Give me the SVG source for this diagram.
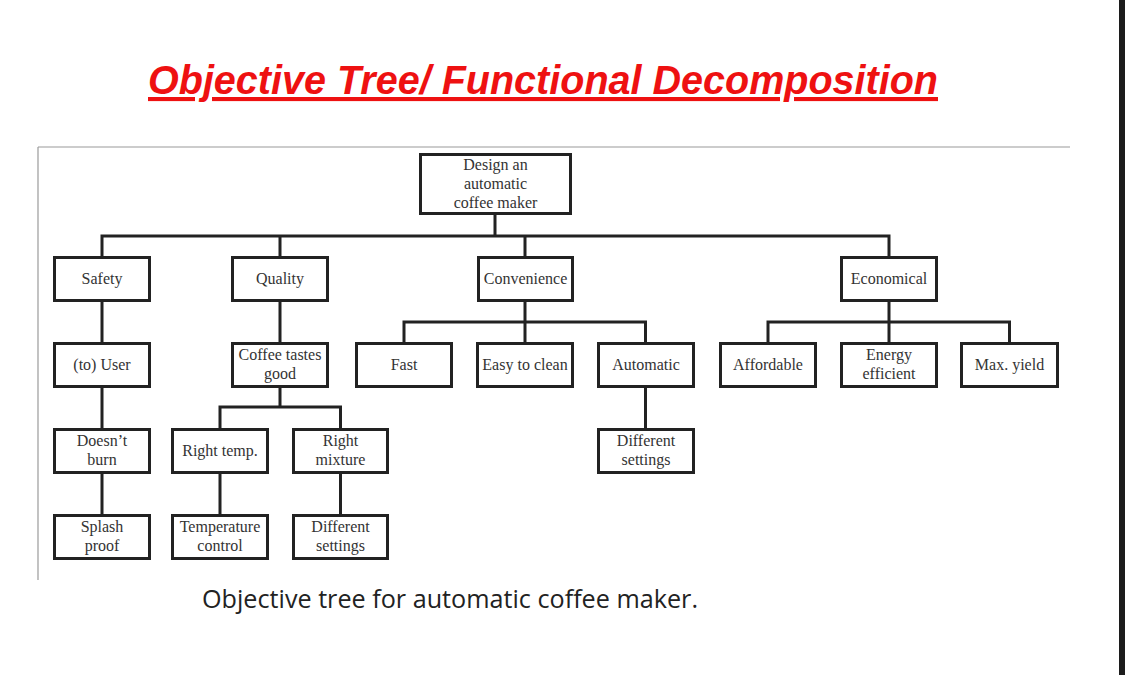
<svg xmlns="http://www.w3.org/2000/svg" width="1125" height="675" viewBox="0 0 1125 675">
<style>
.box{fill:#fff;stroke:#222;stroke-width:3}
.lbl{font-family:"Liberation Serif","Times New Roman",serif;font-size:16px;fill:#333;text-anchor:middle}
.con{fill:none;stroke:#222;stroke-width:3;stroke-linecap:square}
.frame{stroke:#9a9a9a;stroke-width:1.2;fill:none}
</style>
<rect width="1125" height="675" fill="#fff"/>
<rect x="1119" y="0" width="6" height="675" fill="#1c1c1c"/>
<text x="148" y="94" font-family="'Liberation Sans',Arial,sans-serif" font-size="41" font-weight="bold" font-style="italic" fill="#ee1111" text-decoration="underline" textLength="790" lengthAdjust="spacingAndGlyphs">Objective Tree/ Functional Decomposition</text>
<g id="frame">
<line class="frame" x1="38" y1="147" x2="1070" y2="147"/>
<line class="frame" x1="38" y1="147" x2="38" y2="580"/>
</g>
<g id="connectors">
<path class="con" d="M495 215V236M102 236H889M102 236V257M280 236V257M525 236V257M889 236V257"/>
<path class="con" d="M102 300V343M102 386V429M102 472V515"/>
<path class="con" d="M280 300V343M280 386V407M220 407H340.5M220 407V429M340.5 407V429M220 472V515M340.5 472V515"/>
<path class="con" d="M525 300V322M404 322H645.5M404 322V343M525 322V343M645.5 322V343M645.5 386V429"/>
<path class="con" d="M889 300V322M768 322H1009.5M768 322V343M889 322V343M1009.5 322V343"/>
</g>
<g id="root"><rect class="box" x="420.5" y="154.5" width="150" height="59"/><text class="lbl" x="495.5" y="170">Design an</text><text class="lbl" x="495.5" y="189">automatic</text><text class="lbl" x="495.5" y="208">coffee maker</text></g>
<g id="safety"><rect class="box" x="54.5" y="257.5" width="95" height="43"/><text class="lbl" x="102" y="284">Safety</text></g>
<g id="quality"><rect class="box" x="232.5" y="257.5" width="95" height="43"/><text class="lbl" x="280" y="284">Quality</text></g>
<g id="convenience"><rect class="box" x="478.5" y="257.5" width="94" height="43"/><text class="lbl" x="525.5" y="284">Convenience</text></g>
<g id="economical"><rect class="box" x="841.5" y="257.5" width="95" height="43"/><text class="lbl" x="889" y="284">Economical</text></g>
<g id="user"><rect class="box" x="54.5" y="343.5" width="95" height="43"/><text class="lbl" x="102" y="370">(to) User</text></g>
<g id="tastes"><rect class="box" x="232.5" y="343.5" width="95" height="43"/><text class="lbl" x="280" y="360">Coffee tastes</text><text class="lbl" x="280" y="379">good</text></g>
<g id="fast"><rect class="box" x="356.5" y="343.5" width="95" height="43"/><text class="lbl" x="404" y="370">Fast</text></g>
<g id="easy"><rect class="box" x="477.5" y="343.5" width="95" height="43"/><text class="lbl" x="525" y="370">Easy to clean</text></g>
<g id="automatic"><rect class="box" x="598.5" y="343.5" width="95" height="43"/><text class="lbl" x="646" y="370">Automatic</text></g>
<g id="affordable"><rect class="box" x="720.5" y="343.5" width="95" height="43"/><text class="lbl" x="768" y="370">Affordable</text></g>
<g id="energy"><rect class="box" x="841.5" y="343.5" width="95" height="43"/><text class="lbl" x="889" y="360">Energy</text><text class="lbl" x="889" y="379">efficient</text></g>
<g id="maxyield"><rect class="box" x="961.5" y="343.5" width="96" height="43"/><text class="lbl" x="1009.5" y="370">Max. yield</text></g>
<g id="burn"><rect class="box" x="54.5" y="429.5" width="95" height="43"/><text class="lbl" x="102" y="446">Doesn’t</text><text class="lbl" x="102" y="465">burn</text></g>
<g id="temp"><rect class="box" x="172.5" y="429.5" width="95" height="43"/><text class="lbl" x="220" y="456">Right temp.</text></g>
<g id="mixture"><rect class="box" x="293.5" y="429.5" width="94" height="43"/><text class="lbl" x="340.5" y="446">Right</text><text class="lbl" x="340.5" y="465">mixture</text></g>
<g id="settings2"><rect class="box" x="598.5" y="429.5" width="95" height="43"/><text class="lbl" x="646" y="446">Different</text><text class="lbl" x="646" y="465">settings</text></g>
<g id="splash"><rect class="box" x="54.5" y="515.5" width="95" height="43"/><text class="lbl" x="102" y="532">Splash</text><text class="lbl" x="102" y="551">proof</text></g>
<g id="tempcontrol"><rect class="box" x="172.5" y="515.5" width="95" height="43"/><text class="lbl" x="220" y="532">Temperature</text><text class="lbl" x="220" y="551">control</text></g>
<g id="settings1"><rect class="box" x="293.5" y="515.5" width="94" height="43"/><text class="lbl" x="340.5" y="532">Different</text><text class="lbl" x="340.5" y="551">settings</text></g>
<text x="202" y="608" font-family="'Open Sans','Noto Sans',sans-serif" font-size="25" fill="#222" textLength="496" lengthAdjust="spacingAndGlyphs">Objective tree for automatic coffee maker.</text>
</svg>
